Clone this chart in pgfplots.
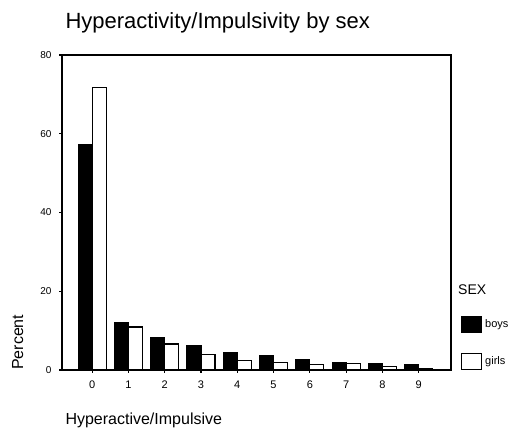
\documentclass[border=0pt]{standalone}
\usepackage{pgfplots}
\pgfplotsset{compat=1.18}
\usepackage{fontspec}
\setmainfont{Liberation Sans}
\begin{document}
\begin{tikzpicture}
\useasboundingbox (0pt,0pt) rectangle (511pt,430pt);
\begin{axis}[
  at={(62pt,60pt)},anchor=south west,
  scale only axis,width=389pt,height=315pt,
  xmin=-0.83,xmax=9.89,ymin=0,ymax=80,
  ybar=0pt,bar width=14pt,
  xtick={0,...,9},ytick={0,20,40,60,80},
  tick pos=left,tick align=outside,major tick length=3pt,
  tick style={black,line width=1.2pt},
  axis line style={black,line width=1.3pt},
  /pgf/number format/assume math mode=true,
  x tick label style={font=\fontsize{11}{12}\selectfont,yshift=-4pt},
  y tick label style={font=\fontsize{10}{12}\selectfont,xshift=-4pt},
  title={Hyperactivity/Impulsivity by sex},
  title style={font=\fontsize{22}{24}\selectfont,at={(0,1)},anchor=base west,yshift=21pt},
  xlabel={Hyperactive/Impulsive},
  xlabel style={font=\fontsize{16}{18}\selectfont,at={(0,0)},anchor=base west,yshift=-55pt},
  legend style={at={(1,0)},anchor=south west,xshift=10pt,draw=none,fill=none,inner sep=0pt,
    row sep=20pt,column sep=3pt,font=\fontsize{11}{12}\selectfont,
    nodes={inner sep=0pt}},
  legend cell align=left,
  legend image code/.code={\draw[#1,line width=1pt] (0pt,-8pt) rectangle (20pt,8pt);},
]
\addplot[fill=black,draw=black,line width=1.2pt] coordinates {
(0,57.3) (1,12.0) (2,8.2) (3,6.1) (4,4.4) (5,3.6) (6,2.7) (7,1.9) (8,1.7) (9,1.3)};
\addlegendentry{boys}
\addplot[fill=white,draw=black,line width=1.2pt] coordinates {
(0,71.7) (1,10.9) (2,6.6) (3,4.0) (4,2.5) (5,2.0) (6,1.3) (7,1.6) (8,0.8) (9,0.4)};
\addlegendentry{girls}
\end{axis}
\node[rotate=90,anchor=base west,font=\fontsize{16}{18}\selectfont,inner sep=0pt] at (23pt,60pt) {Percent};
\node[anchor=west,font=\fontsize{14}{16}\selectfont,inner sep=0pt] at (458pt,140pt) {SEX};
\end{tikzpicture}
\end{document}
